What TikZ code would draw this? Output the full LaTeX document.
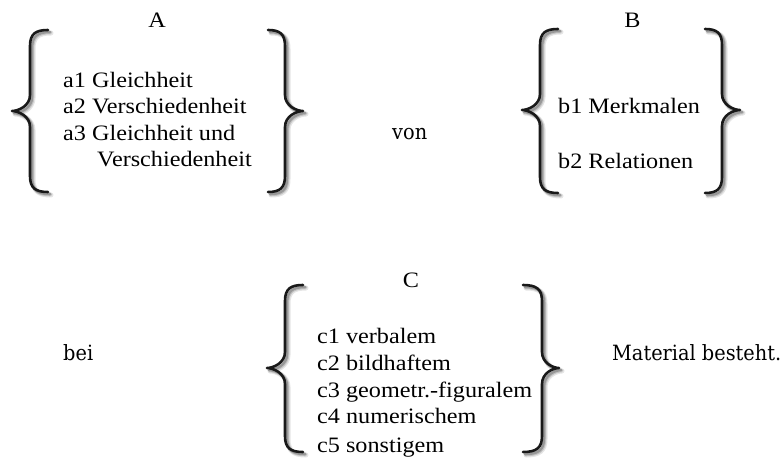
\documentclass[tikz,border=0pt]{standalone}
\usepackage{fontspec}
\setmainfont{Liberation Serif}[FakeStretch=1.1]
\newfontfamily\slabfont{DejaVu Serif}[FakeStretch=0.92]
\newcommand\itemfont{\fontsize{22}{26}\selectfont}
\newcommand\linkfont{\slabfont\fontsize{21}{25}\selectfont}

% #1 end x, #2 stem x, #3 tip x, #4 top y, #5 middle y, #6 bottom y
\newcommand\curlybr[6]{%
  \foreach \dx/\dy/\op/\lw in {3/3/0.10/5, 2.5/2.5/0.15/3.6, 2/2/0.22/2.6}{%
    \draw[brace shadow, line width=\lw, opacity=\op, shift={(\dx,\dy)}]
      (#1,#4) .. controls ({#2+0.3*(#1-#2)},#4) and (#2,{#4+4}) .. (#2,{#4+16})
      -- (#2,{#5-16}) .. controls (#2,{#5-5}) and ({#3+0.35*(#2-#3)},#5) .. (#3,#5)
      .. controls ({#3+0.35*(#2-#3)},#5) and (#2,{#5+5}) .. (#2,{#5+16})
      -- (#2,{#6-16}) .. controls (#2,{#6-4}) and ({#2+0.3*(#1-#2)},#6) .. (#1,#6);
  }
  \draw[brace line]
    (#1,#4) .. controls ({#2+0.3*(#1-#2)},#4) and (#2,{#4+4}) .. (#2,{#4+16})
    -- (#2,{#5-16}) .. controls (#2,{#5-5}) and ({#3+0.35*(#2-#3)},#5) .. (#3,#5)
    .. controls ({#3+0.35*(#2-#3)},#5) and (#2,{#5+5}) .. (#2,{#5+16})
    -- (#2,{#6-16}) .. controls (#2,{#6-4}) and ({#2+0.3*(#1-#2)},#6) .. (#1,#6);
}

\tikzset{
  brace line/.style={draw=black!90, line width=2.6pt, line cap=round, line join=round},
  brace shadow/.style={draw=black, line cap=round, line join=round},
  entry/.style={anchor=base west, inner sep=0pt, font=\itemfont},
  head/.style={anchor=base, inner sep=0pt, font=\itemfont},
  link/.style={anchor=base west, inner sep=0pt, font=\linkfont},
}

\begin{document}
\begin{tikzpicture}[x=1pt, y=-1pt]
  \useasboundingbox (0,0) rectangle (784,460);

  % group A
  \node[head] (A) at (157,28) {A};
  \curlybr{48}{30}{12}{30}{111}{192}
  \curlybr{268}{285}{303}{30}{111}{192}
  \node[entry] (a1) at (63,87) {a1 Gleichheit};
  \node[entry] (a2) at (63,113.5) {a2 Verschiedenheit};
  \node[entry] (a3) at (63,140) {a3 Gleichheit und};
  \node[entry] (a3b) at (97,166.5) {Verschiedenheit};

  \node[link] (von) at (392,139) {von};

  % group B
  \node[head] (B) at (632.5,28) {B};
  \curlybr{558}{540}{522}{29}{110}{193}
  \curlybr{705}{722}{740}{29}{110}{193}
  \node[entry] (b1) at (558,113) {b1 Merkmalen};
  \node[entry] (b2) at (558,168) {b2 Relationen};

  % group C
  \node[link] (bei) at (63,360) {bei};
  \node[head] (C) at (411,287) {C};
  \curlybr{303}{285}{267}{285}{368}{452}
  \curlybr{523}{542}{559}{285}{368}{452}
  \node[entry] (c1) at (317,343) {c1 verbalem};
  \node[entry] (c2) at (317,370) {c2 bildhaftem};
  \node[entry] (c3) at (317,397) {c3 geometr.-figuralem};
  \node[entry] (c4) at (317,423) {c4 numerischem};
  \node[entry] (c5) at (317,452) {c5 sonstigem};

  \node[link] (mat) at (612,360) {Material besteht.};
\end{tikzpicture}
\end{document}
